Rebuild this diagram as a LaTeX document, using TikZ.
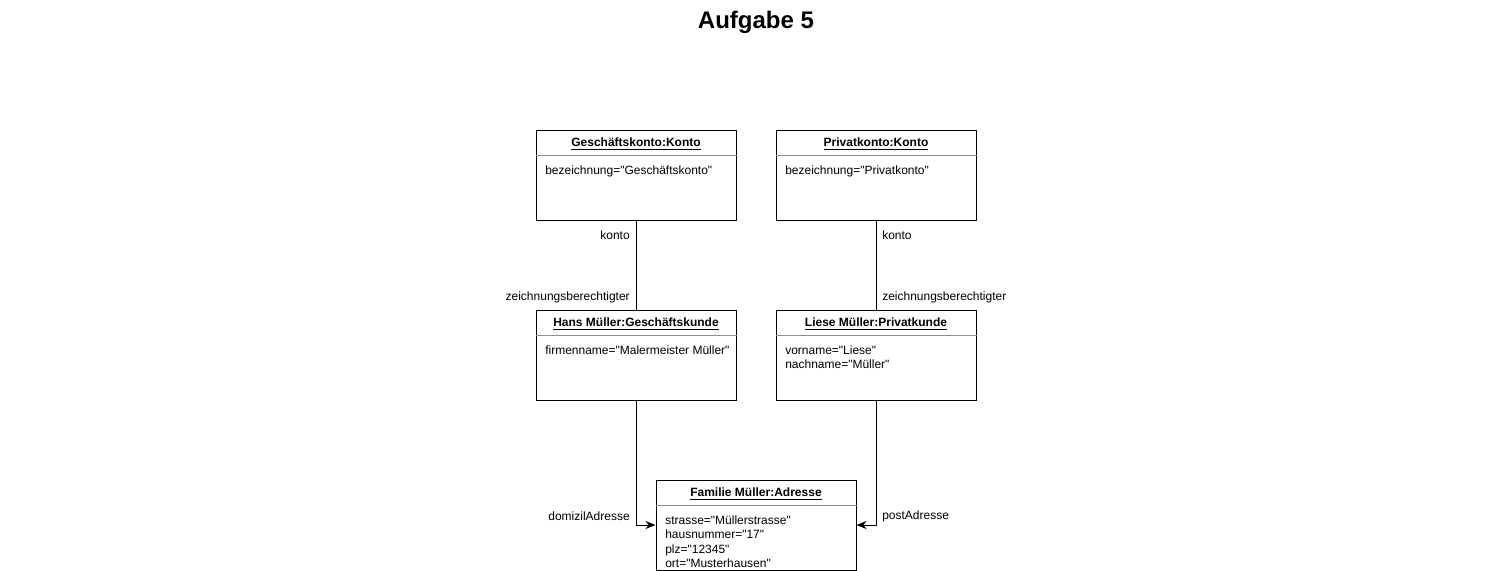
\documentclass[tikz,border=0pt]{standalone}
\usepackage{fontspec}
\setmainfont{Liberation Sans}[Ligatures=TeXOff]
\usetikzlibrary{arrows.meta}
\begin{document}
\begin{tikzpicture}[x=0.75pt,y=-0.75pt,
  objbox/.style={draw,line width=0.75pt,minimum width=150pt,minimum height=67.5pt,inner sep=0pt},
  objtitle/.style={font=\bfseries\fontsize{9}{11}\selectfont,inner sep=0pt,anchor=center},
  attr/.style={font=\fontsize{9}{10.8}\selectfont,inner sep=0pt,anchor=north west,align=left},
  sep/.style={draw=black!45,line width=0.75pt},
  lbl/.style={font=\fontsize{9}{11}\selectfont,inner sep=0pt},
  conn/.style={line width=0.75pt},
  arr/.style={line width=0.75pt,-{Stealth[length=7.5pt,width=6pt]}}]
\useasboundingbox (0,0) rectangle (1511,571);
\node[font=\bfseries\fontsize{18}{21}\selectfont,inner sep=0pt] (title) at (756,22) {Aufgabe 5};
% boxes
\node[objbox] (gk) at (636,175) {};
\node[objbox] (pk) at (876,175) {};
\node[objbox] (hm) at (636,355) {};
\node[objbox] (lm) at (876,355) {};
\node[objbox] (fa) at (756,525) {};
% titles
\node[objtitle] (gkt) at (636,144) {\underline{Geschäftskonto:Konto}};
\node[objtitle] (pkt) at (876,144) {\underline{Privatkonto:Konto}};
\node[objtitle] (hmt) at (636,324) {\underline{Hans Müller:Geschäftskunde}};
\node[objtitle] (lmt) at (876,324) {\underline{Liese Müller:Privatkunde}};
\node[objtitle] (fat) at (756,494) {\underline{Familie Müller:Adresse}};
% separators
\draw[sep] ([yshift=-19.5pt]gk.north west) -- ([yshift=-19.5pt]gk.north east);
\draw[sep] ([yshift=-19.5pt]pk.north west) -- ([yshift=-19.5pt]pk.north east);
\draw[sep] ([yshift=-19.5pt]hm.north west) -- ([yshift=-19.5pt]hm.north east);
\draw[sep] ([yshift=-19.5pt]lm.north west) -- ([yshift=-19.5pt]lm.north east);
\draw[sep] ([yshift=-19.5pt]fa.north west) -- ([yshift=-19.5pt]fa.north east);
% attributes
\node[attr] (gka) at (545,166) {bezeichnung="Geschäftskonto"};
\node[attr] (pka) at (785,166) {bezeichnung="Privatkonto"};
\node[attr] (hma) at (545,346) {firmenname="Malermeister Müller"};
\node[attr] (lma) at (785,345.5) {vorname="Liese"\\nachname="Müller"};
\node[attr] (faa) at (665,515.5) {strasse="Müllerstrasse"\\hausnummer="17"\\plz="12345"\\ort="Musterhausen"};
% connectors
\draw[conn] (gk.south) -- (hm.north);
\draw[conn] (pk.south) -- (lm.north);
\draw[arr] (hm.south) |- (fa.west);
\draw[arr] (lm.south) |- (fa.east);
% labels
\node[lbl,anchor=east] (l1) at (630,235) {konto};
\node[lbl,anchor=east] (l2) at (630,297) {zeichnungsberechtigter};
\node[lbl,anchor=west] (l3) at (882,235) {konto};
\node[lbl,anchor=west] (l4) at (882,297) {zeichnungsberechtigter};
\node[lbl,anchor=east] (l5) at (630,516) {domizilAdresse};
\node[lbl,anchor=west] (l6) at (882,516) {postAdresse};
\end{tikzpicture}
\end{document}
